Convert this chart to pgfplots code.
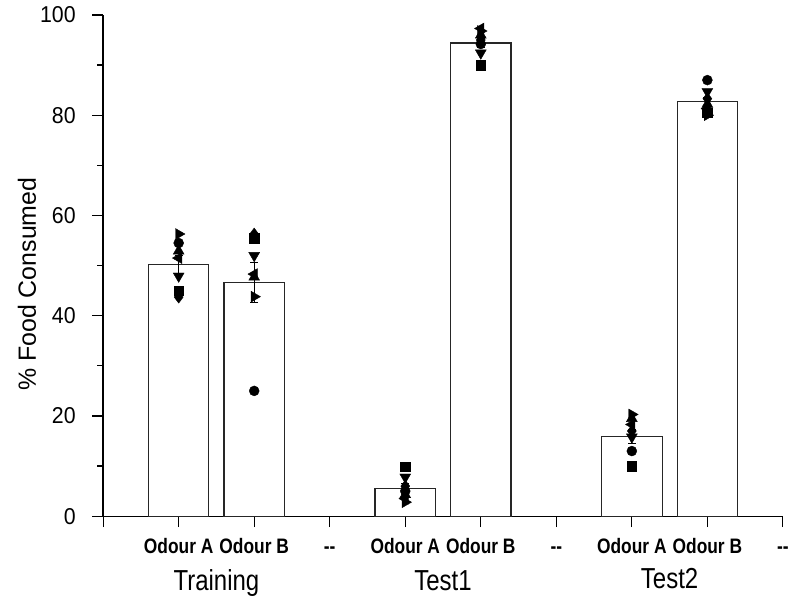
\documentclass[border=0pt]{standalone}
\usepackage{fontspec}
\setmainfont{Liberation Sans}[FakeStretch=0.83]
\newfontfamily\ylabfont{Liberation Sans}
\newfontfamily\tickfont{Liberation Sans}[FakeStretch=0.93]
\usepackage{pgfplots}
\pgfplotsset{compat=1.18}
\begin{document}
\begin{tikzpicture}
\begin{axis}[
  name=ax,
  scale only axis, width=682.1pt, height=503pt,
  xmin=0, xmax=9, ymin=0, ymax=100,
  clip=false,
  axis x line*=bottom, axis y line*=left,
  axis line style={line width=1.3pt, black, -},
  tick align=outside,
  tick style={line width=1.2pt, black},
  major tick length=11pt, minor tick length=6pt,
  ytick={0,20,40,60,80,100},
  minor ytick={10,30,50,70,90},
  xtick={0,1,2,3,4,5,6,7,8,9},
  xticklabels={,Odour A,Odour B,-{}-,Odour A,Odour B,-{}-,Odour A,Odour B,-{}-},
  /pgf/number format/assume math mode=true,
  yticklabel style={font=\tickfont\fontsize{23}{26}\selectfont, xshift=-13pt},
  xticklabel style={font=\bfseries\fontsize{21}{24}\selectfont, yshift=-8pt, text height=15pt, text depth=0pt},
  ylabel={\% Food Consumed},
  every axis y label/.style={at={(axis description cs:-0.112,0.463)}, rotate=90, anchor=center, font=\ylabfont\fontsize{25}{28}\selectfont},
]
\addplot[ybar, bar width=0.8, draw=black!85, line width=1.1pt, fill=white,
  error bars/.cd, y dir=both, y explicit,
  error bar style={line width=1pt, black},
  error mark options={rotate=90, mark size=4pt, line width=1pt, black}]
  coordinates {(1,50.3) +- (0,1.8) (2,46.7) +- (0,4.0) (4,5.6) +- (0,0.9)
               (5,94.4) +- (0,0.9) (7,15.9) +- (0,1.3) (8,82.7) +- (0,0.9)};
% square
\addplot[only marks, black, mark=square*, mark size=4.8pt]
  coordinates {(1,45.0) (2,55.5) (4,9.9) (5,90.0) (7,10.0) (8,80.5)};
% circle
\addplot[only marks, black, mark=*, mark size=5pt]
  coordinates {(1,54.5) (2,25.0) (4,5.0) (5,94.2) (7,13.0) (8,87.0)};
% triangle up
\addplot[only marks, black, mark=triangle*, mark size=6.3pt]
  coordinates {(1,52.9) (2,47.7) (4,4.3) (5,96.0) (7,19.5) (8,82.2)};
% triangle down
\addplot[only marks, black, mark=triangle*, mark size=6.3pt, mark options={rotate=180}]
  coordinates {(1,47.9) (2,52.0) (4,7.8) (5,92.4) (7,15.8) (8,84.7)};
% diamond
\addplot[only marks, black, mark=diamond*, mark size=6pt]
  coordinates {(1,43.7) (2,56.3) (4,6.0) (5,95.0) (7,17.0) (8,83.3)};
% triangle left
\addplot[only marks, black, mark=triangle*, mark size=6.3pt, mark options={rotate=90}]
  coordinates {(1,51.5) (2,48.3) (4,3.5) (5,97.3) (7,18.3) (8,81.3)};
% triangle right
\addplot[only marks, black, mark=triangle*, mark size=6.3pt, mark options={rotate=-90}]
  coordinates {(1,56.3) (2,43.8) (4,2.8) (5,96.8) (7,20.3) (8,80.0)};
\node[font=\fontsize{29}{32}\selectfont, anchor=base] at ([yshift=-75pt]axis cs:1.5,0) {Training};
\node[font=\fontsize{29}{32}\selectfont, anchor=base] at ([yshift=-75pt]axis cs:4.5,0) {Test1};
\node[font=\fontsize{29}{32}\selectfont, anchor=base] at ([yshift=-73pt]axis cs:7.5,0) {Test2};
\end{axis}
\path ([xshift=-103.5pt,yshift=-84pt]ax.south west) rectangle ([xshift=6.4pt,yshift=15pt]ax.north east);
\end{tikzpicture}
\end{document}
